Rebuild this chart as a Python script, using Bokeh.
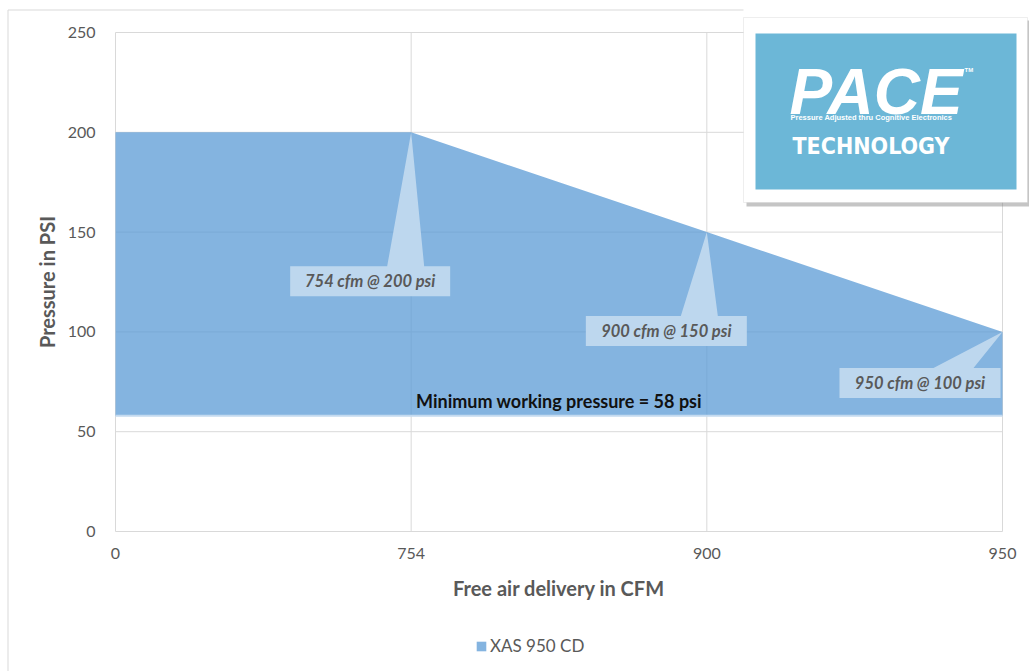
from bokeh.plotting import figure
from bokeh.models import (FixedTicker, Legend, LegendItem, Label, BoxAnnotation, Range1d)
from bokeh.core.properties import value
from bokeh.embed import file_html
from bokeh.resources import INLINE

# ---- data ----
cfm_labels = ["0", "754", "900", "950"]
pressure_psi = [200, 200, 150, 100]
min_pressure_psi = 58
y_ticks = [0, 50, 100, 150, 200, 250]
series_name = "XAS 950 CD"
callout_points = [1, 2, 3]  # indices of the annotated points

# ---- layout constants (pixels) ----
W, H = 1029, 671
PLOT_L, PLOT_R, PLOT_T, PLOT_B = 115, 1002, 32, 531
xs = list(range(len(cfm_labels)))
pxx = (PLOT_R - PLOT_L) / (xs[-1] - xs[0])
pxy = (PLOT_B - PLOT_T) / (y_ticks[-1] - y_ticks[0])


def dx(px):
    return xs[0] + (px - PLOT_L) / pxx


def dy(py):
    return y_ticks[0] + (PLOT_B - py) / pxy


GREY = "#595959"
FONT = "Lato"
GRID = "#D9D9D9"

p = figure(width=W, height=H, output_backend="svg", toolbar_location=None,
           x_range=Range1d(dx(0), dx(W)), y_range=Range1d(dy(H), dy(0)),
           min_border=0)
p.outline_line_color = None
p.background_fill_color = "white"
p.border_fill_color = "white"
p.grid.visible = False

# chart-area border (decoration)
p.segment(x0=[dx(7.5), dx(7.5)], y0=[dy(9.5), dy(9.5)],
          x1=[dx(7.5), dx(743)], y1=[dy(H), dy(9.5)], line_color=GRID, line_width=1)

# grid lines (inside plot area only)
p.segment(x0=[xs[0]] * len(y_ticks), x1=[xs[-1]] * len(y_ticks), y0=y_ticks, y1=y_ticks,
          line_color=GRID, line_width=1)
p.segment(x0=xs, x1=xs, y0=[y_ticks[0]] * len(xs), y1=[y_ticks[-1]] * len(xs),
          line_color=GRID, line_width=1)

# area
area = p.varea(x=xs, y1=[min_pressure_psi] * len(xs), y2=pressure_psi,
               fill_color="#5B9BD5", fill_alpha=0.75)
p.line(xs, [min_pressure_psi] * len(xs), line_color="#C4DAEF", line_width=2)

# callouts: offsets in px relative to the point (left, right, top, bottom, base L, base R)
callout_style = [(-121, 39, 134, 164, -24, 13),
                 (-121, 40, 84, 114, -26, 11),
                 (-163, -2, 36, 66, -69, -29)]
pxs, pys, tx, ty, tt = [], [], [], [], []
for idx, (l, r, t, b, bl, br) in zip(callout_points, callout_style):
    x0, y0 = xs[idx], pressure_psi[idx]
    fx = lambda d: x0 + d / pxx
    fy = lambda d: y0 - d / pxy
    pxs.append([x0, fx(br), fx(r), fx(r), fx(l), fx(l), fx(bl)])
    pys.append([y0, fy(t), fy(t), fy(b), fy(b), fy(t), fy(t)])
    tx.append(fx((l + r) / 2))
    ty.append(fy((t + b) / 2))
    tt.append(f"{cfm_labels[idx]} cfm @ {pressure_psi[idx]} psi")
p.patches(pxs, pys, fill_color="#BDD7EE", line_color=None)
p.text(x=tx, y=ty, text=tt, text_align="center", text_baseline="middle",
       text_font=value(FONT), text_font_style="bold italic",
       text_font_size="16.5px", text_color=GREY)

p.text(x=[(xs[0] + xs[-1]) / 2], y=[min_pressure_psi],
       text=[f"Minimum working pressure = {min_pressure_psi} psi"],
       text_align="center", text_baseline="middle", y_offset=-15,
       text_font=value(FONT), text_font_style="bold", text_font_size="18px",
       text_color="#111111")

# axes (fixed inside the full-canvas frame)
p.xaxis.ticker = FixedTicker(ticks=xs)
p.xaxis.major_label_overrides = {i: lab for i, lab in enumerate(cfm_labels)}
p.yaxis.ticker = FixedTicker(ticks=y_ticks)
p.xaxis.fixed_location = y_ticks[0]
p.yaxis.fixed_location = xs[0]
p.xaxis.bounds = (xs[0], xs[-1])
p.yaxis.bounds = (y_ticks[0], y_ticks[-1])
for ax in (p.xaxis[0], p.yaxis[0]):
    ax.axis_line_color = None
    ax.major_tick_line_color = None
    ax.minor_tick_line_color = None
    ax.major_tick_in = 0
    ax.major_tick_out = 0
    ax.major_label_text_font = FONT
    ax.major_label_text_font_size = "16px"
    ax.major_label_text_color = GREY
    ax.axis_label_text_font = FONT
    ax.axis_label_text_font_size = "20px"
    ax.axis_label_text_font_style = "bold"
    ax.axis_label_text_color = GREY
p.xaxis.axis_label = "Free air delivery in CFM"
p.yaxis.axis_label = "Pressure in PSI"
p.xaxis.major_label_standoff = 16
p.xaxis.axis_label_standoff = 14
p.yaxis.major_label_standoff = 20
p.yaxis.axis_label_standoff = 6

legend = Legend(items=[LegendItem(label=series_name, renderers=[area])],
                location=(475, 15), orientation="horizontal",
                padding=0, margin=0, border_line_color=None,
                background_fill_alpha=0, glyph_width=12, glyph_height=12,
                label_standoff=3, label_text_font=FONT,
                label_text_font_size="17px", label_text_color=GREY)
p.add_layout(legend, "center")

# ---- logo (decoration) ----
p.add_layout(BoxAnnotation(left=dx(746), right=dx(1031), top=dy(20), bottom=dy(206),
                           fill_color="#7F7F7F", fill_alpha=0.45, line_color=None,
                           level="overlay"))
p.add_layout(BoxAnnotation(left=dx(743), right=dx(1027), top=dy(17), bottom=dy(202),
                           fill_color="white", fill_alpha=1, line_color="#C6C6C6",
                           line_width=1, level="overlay"))
p.add_layout(BoxAnnotation(left=dx(755), right=dx(1016), top=dy(33), bottom=dy(189),
                           fill_color="#6CB7D7", fill_alpha=1, line_color=None,
                           level="overlay"))
p.add_layout(Label(x=dx(789), y=dy(91), text="PACE", text_baseline="alphabetic",
                   text_font="Liberation Sans", text_font_style="bold italic",
                   text_font_size="64px", text_color="white", level="overlay"))
p.add_layout(Label(x=dx(964), y=dy(69), text="TM", text_baseline="alphabetic",
                   text_font="Liberation Sans", text_font_style="bold",
                   text_font_size="6px", text_color="white", level="overlay"))
p.add_layout(Label(x=dx(790), y=dy(117), text="Pressure Adjusted thru Cognitive Electronics",
                   text_baseline="alphabetic", text_font="Liberation Sans",
                   text_font_style="bold", text_font_size="7.5px", text_color="white",
                   level="overlay"))
p.add_layout(Label(x=dx(792), y=dy(145), text="TECHNOLOGY", text_baseline="alphabetic",
                   text_font="'DejaVu Sans Condensed', Roboto, sans-serif",
                   text_font_style="bold", text_font_size="23px", text_color="white",
                   level="overlay"))

open("out.html", "w").write(file_html(p, INLINE))
